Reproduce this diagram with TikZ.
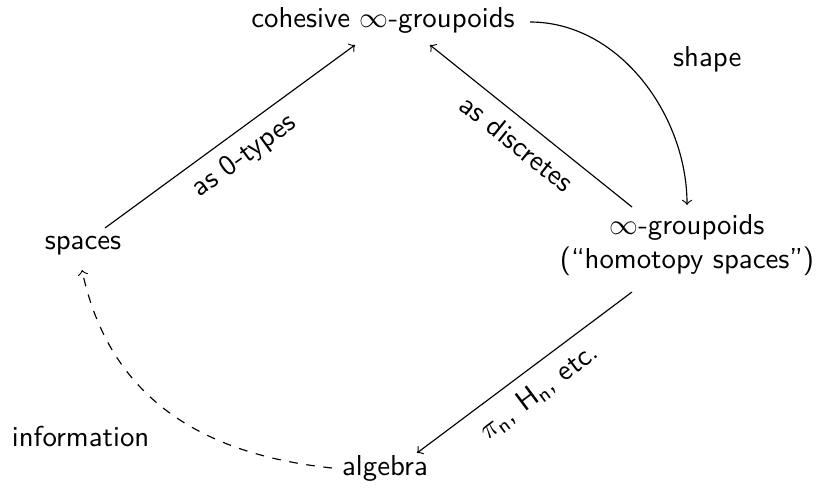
\documentclass[tikz,border=0pt]{standalone}
\usetikzlibrary{calc}
\tikzset{
  obj/.style={font=\sffamily,align=center,inner sep=3pt},
  arr/.style={->,thin},
  lbl/.style={font=\sffamily,sloped,inner sep=4pt},
}

\begin{document}
\begin{tikzpicture}[x=0.122mm,y=0.122mm]
    \useasboundingbox (0,0) rectangle (817,490);
    \node[obj] (coh) at (383,470) {cohesive $\infty$-groupoids};
    \node[obj] (spaces) at (83,244) {spaces};
    \node[obj] (infg) at (687,245) {$\infty$-groupoids\\(``homotopy spaces'')};
    \node[obj] (alg) at (385,22) {algebra};
    \draw[arr] ($(spaces)+(22,18)$) -- node[lbl,below] (l0types) {as 0-types} ($(coh)+(-28,-25)$);
    \draw[arr] ($(infg)+(-55,38)$) -- node[lbl,below] (ldisc) {as discretes} ($(coh)+(47,-25)$);
    \draw[arr] ($(coh)+(147,-2)$) to[out=0,in=90,looseness=0.95]
      node[pos=.39,right=5mm,font=\sffamily] (lshape) {shape} ($(infg)+(0,40)$);
    \draw[arr] ($(infg)+(-55,-47)$) -- node[lbl,below] (lalg) {$\pi_{\mathsf{n}}$, $\mathsf{H}_{\mathsf{n}}$, etc.} ($(alg)+(32,15)$);
    \draw[arr,dashed] ($(alg)+(-53,0)$) to[out=174,in=-78,looseness=1.05]
      node[pos=.35,left=6.2mm,font=\sffamily] (linfo) {information} ($(spaces)+(-1,-24)$);
  \end{tikzpicture}
\end{document}
